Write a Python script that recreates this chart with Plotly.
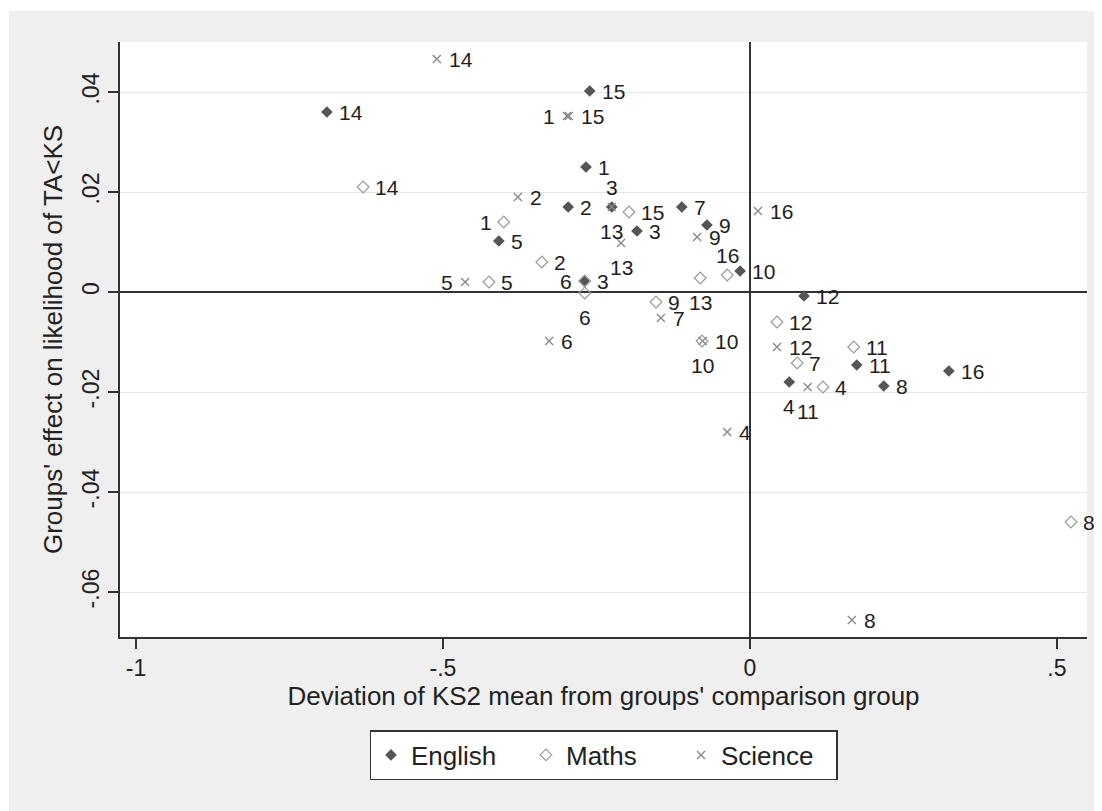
import plotly.graph_objects as go

# ---- data ----
groups = [str(i) for i in range(1, 17)]

english_x = [-0.267, -0.296, -0.184, 0.064, -0.409, -0.270, -0.111, 0.218,
             -0.070, -0.016, 0.174, 0.088, -0.225, -0.689, -0.261, 0.324]
english_y = [0.0250, 0.0170, 0.0122, -0.0180, 0.0102, 0.0022, 0.0170, -0.0188,
             0.0134, 0.0042, -0.0146, -0.0008, 0.0170, 0.0360, 0.0402, -0.0158]
english_pos = ["right", "right", "right", "bottom", "right", "left", "right", "right",
               "right", "right", "right", "right", "bottom", "right", "right", "right"]

maths_x = [-0.401, -0.339, -0.269, 0.119, -0.425, -0.269, 0.077, 0.523,
           -0.153, -0.078, 0.169, 0.044, -0.081, -0.630, -0.197, -0.037]
maths_y = [0.0140, 0.0060, 0.0022, -0.0190, 0.0020, -0.0002, -0.0142, -0.0460,
           -0.0020, -0.0098, -0.0110, -0.0060, 0.0028, 0.0210, 0.0160, 0.0034]
maths_pos = ["left", "right", "right", "right", "right", "bottom", "right", "right",
             "right", "bottom", "right", "right", "bottom", "right", "right", "top"]

science_x = [-0.298, -0.378, -0.225, -0.037, -0.464, -0.327, -0.145, 0.166,
             -0.086, -0.077, 0.094, 0.044, -0.210, -0.510, -0.295, 0.013]
science_y = [0.0352, 0.0190, 0.0170, -0.0280, 0.0020, -0.0098, -0.0052, -0.0656,
             0.0110, -0.0098, -0.0190, -0.0110, 0.0098, 0.0466, 0.0352, 0.0162]
science_pos = ["left", "right", "top", "right", "left", "right", "right", "right",
               "right", "right", "bottom", "right", "bottom", "right", "right", "right"]

x_tickvals = [-1, -0.5, 0, 0.5]
x_ticktext = ["-1", "-.5", "0", ".5"]
y_tickvals = [0.04, 0.02, 0, -0.02, -0.04, -0.06]
y_ticktext = [".04", ".02", "0", "-.02", "-.04", "-.06"]

FONT = "Liberation Sans, Arial, sans-serif"
LABEL_FONT = dict(family=FONT, size=21, color="#1e1e1e")

fig = go.Figure()
fig.add_trace(go.Scatter(
    x=english_x, y=english_y, mode="markers", name="English",
    marker=dict(symbol="diamond", size=9, color="#555555", line=dict(width=0)),
))
fig.add_trace(go.Scatter(
    x=maths_x, y=maths_y, mode="markers", name="Maths",
    marker=dict(symbol="diamond-open", size=9, color="#9a9a9a",
                line=dict(width=1.2, color="#9a9a9a")),
))
fig.add_trace(go.Scatter(
    x=science_x, y=science_y, mode="markers", name="Science",
    marker=dict(symbol="x-thin", size=8, color="#8a8a8a",
                line=dict(width=1.4, color="#8a8a8a")),
))

# marker labels (clock positions as in the reference)
POS = {
    "right": dict(xanchor="left", yanchor="middle", xshift=11, yshift=0),
    "left": dict(xanchor="right", yanchor="middle", xshift=-11, yshift=0),
    "bottom": dict(xanchor="center", yanchor="middle", xshift=0, yshift=-24),
    "top": dict(xanchor="center", yanchor="middle", xshift=0, yshift=20),
}
annotations = []
for xs, ys, ps in [(english_x, english_y, english_pos),
                   (maths_x, maths_y, maths_pos),
                   (science_x, science_y, science_pos)]:
    for g, xv, yv, p in zip(groups, xs, ys, ps):
        annotations.append(dict(x=xv, y=yv, xref="x", yref="y", text=g,
                                showarrow=False, font=LABEL_FONT,
                                borderpad=0, **POS[p]))

# page body adds an 8px offset, so the figure is 8px smaller than the window
OFF = 8
W, H = 1102 - OFF, 811 - OFF
ml, mr, mt, mb = 120 - OFF, 15, 42 - OFF, 174
pw, ph = W - ml - mr, H - mt - mb

fig.update_layout(
    width=W, height=H,
    margin=dict(l=ml, r=mr, t=mt, b=mb, pad=0),
    paper_bgcolor="#efefef",
    plot_bgcolor="#ffffff",
    font=dict(family=FONT, size=23, color="#222222"),
    showlegend=True,
    annotations=annotations,
    legend=dict(
        orientation="h", x=0.5, xanchor="center",
        y=(637 - 730) / ph, yanchor="top",
        bgcolor="#ffffff", bordercolor="#333333", borderwidth=1.5,
        font=dict(family=FONT, size=26, color="#222222"),
        traceorder="normal", entrywidth=110, entrywidthmode="pixels",
    ),
    xaxis=dict(
        range=[-1.026, 0.549],
        tickvals=x_tickvals, ticktext=x_ticktext,
        ticks="outside", ticklen=10, tickwidth=1.5, tickcolor="#333333",
        tickfont=dict(size=23),
        showline=True, linecolor="#333333", linewidth=1.5, mirror=False,
        showgrid=False,
        zeroline=True, zerolinecolor="#333333", zerolinewidth=1.5,
        title=dict(text="Deviation of KS2 mean from groups' comparison group",
                   font=dict(size=26), standoff=6),
    ),
    yaxis=dict(
        range=[-0.069, 0.050],
        tickvals=y_tickvals, ticktext=y_ticktext, tickangle=-90,
        ticks="outside", ticklen=10, tickwidth=1.5, tickcolor="#333333",
        tickfont=dict(size=23),
        showline=True, linecolor="#333333", linewidth=1.5, mirror=False,
        showgrid=True, gridcolor="#e6e6e6", gridwidth=1,
        zeroline=True, zerolinecolor="#333333", zerolinewidth=1.5,
        title=dict(text="Groups' effect on likelihood of TA<KS",
                   font=dict(size=26), standoff=8),
    ),
    shapes=[
        # thin white frame strips at top and left of the image
        dict(type="rect", xref="paper", yref="paper", layer="below",
             x0=-ml / pw, x1=(W - ml) / pw, y0=(H - mb - 3) / ph,
             y1=(H - mb) / ph, fillcolor="#ffffff", line=dict(width=0)),
        dict(type="rect", xref="paper", yref="paper", layer="below",
             x0=-ml / pw, x1=(1 - ml) / pw, y0=-mb / ph, y1=(H - mb) / ph,
             fillcolor="#ffffff", line=dict(width=0)),
    ],
)

fig.write_html("out.html")
